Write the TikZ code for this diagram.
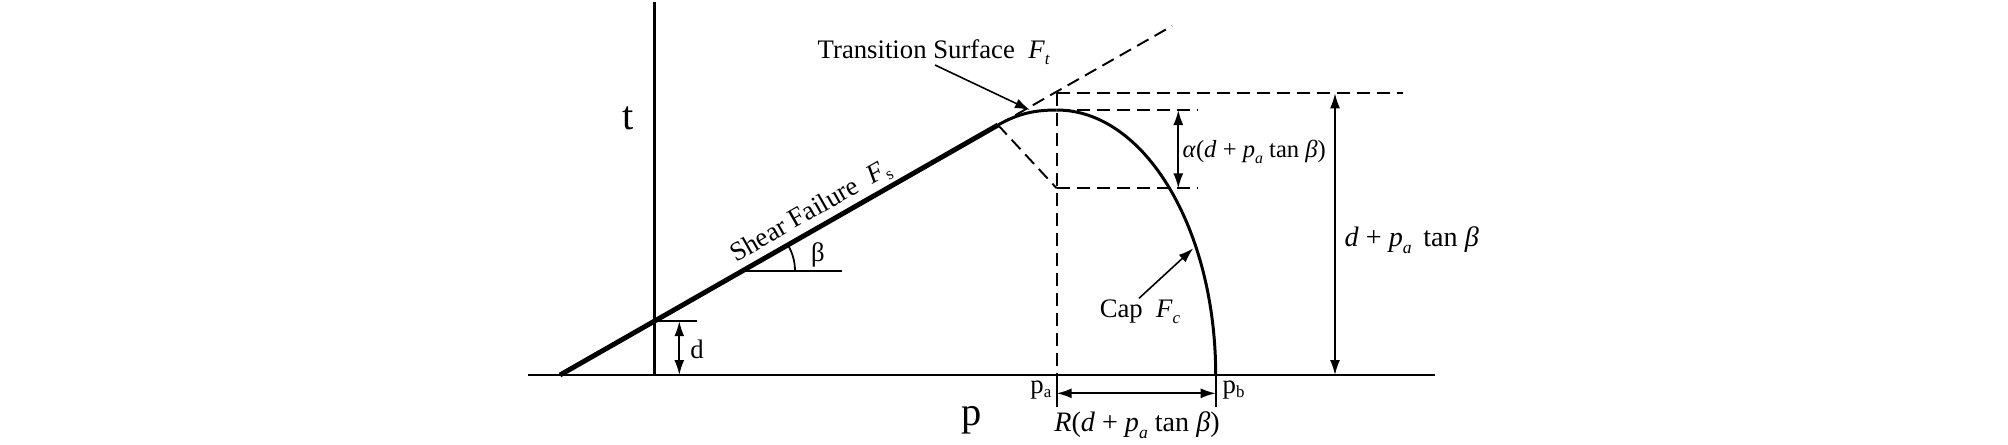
\documentclass[tikz,border=0pt]{standalone}
\usepackage{fontspec}
\setmainfont{Liberation Serif}
\usetikzlibrary{calc,arrows.meta}

\begin{document}
\begin{tikzpicture}[x=0.01cm,y=-0.01cm]
        \tikzstyle{every node}=[inner sep=0pt,font=\fontsize{7.6}{9}\selectfont]
        \tikzstyle{dim}=[line width=0.5pt,{Latex[length=1.5mm,width=1mm]}-{Latex[length=1.5mm,width=1mm]}]
        \tikzstyle{ptr}=[line width=0.45pt,-{Latex[length=1.5mm,width=1mm]}]
        \tikzstyle{guide}=[line width=0.55pt,dash pattern=on 1.3mm off 0.7mm]
        \useasboundingbox (0,0) rectangle (2008,444);

        % axes
        \coordinate (o) at (654.3,375);
        \coordinate (ttop) at (654.3,2);
        \coordinate (pleft) at (528,375);
        \coordinate (pright) at (1435,375);
        \draw[line width=0.8pt] (pleft) -- (pright);
        \draw[line width=0.8pt] (o) -- (ttop);
        \node[font=\fontsize{11.5}{13}\selectfont] (t) at (628,118) {t};
        \node[font=\fontsize{11.5}{13}\selectfont] (p) at (972,420) {p};

        % shear failure line
        \coordinate (s0) at (560,375);
        \coordinate (s1) at (998,125);
        \coordinate (d0) at (654.3,321.2);
        \draw[line width=1.4pt] (s0) -- (s1);
        \node[rotate=29.7] (fs) at (811,212) {Shear Failure\ \ \textit{F}\raisebox{-0.4ex}{\fontsize{4.8}{5}\selectfont s}};

        % d
        \coordinate (d1) at (697,321.2);
        \draw[line width=0.5pt] (d0) -- (d1);
        \draw[dim] (679.3,321.2) -- (679.3,375);
        \node (d) at (697,349) {d};

        % beta
        \coordinate (b0) at (743.3,271);
        \coordinate (b1) at (841.7,271);
        \draw[line width=0.5pt] (b0) -- (b1);
        \draw[line width=0.5pt] ($(b0)+(51.7,0)$) arc[start angle=0,end angle=-29.7,radius=51.7];
        \node (beta) at (818,255) {β};

        % transition surface
        \coordinate (pa) at (1056.7,375);
        \coordinate (pb) at (1215.7,375);
        \coordinate (capt) at (1056.7,110);
        \coordinate (capc) at (1056.7,188.3);
        \draw[line width=0.85pt] (s1) .. controls (1019,113) and (1036,110) .. (capt);
        \draw[guide] (s1) -- (1172,26);
        \draw[guide] (s1) -- (capc);
        \node[anchor=west] (ft) at (817,52) {Transition Surface\ \ \textit{F}\raisebox{-0.5ex}{\fontsize{4.8}{5}\selectfont\textit{t}}};
        \coordinate (ft0) at (935,65);
        \coordinate (ft1) at (1030,110);
        \draw[ptr] (ft0) -- (ft1);

        % cap
        \draw[line width=0.85pt] (pb) arc[start angle=0,end angle=-90,x radius=159,y radius=265];
        \node (fc) at (1140,312) {Cap\ \ \textit{F}\raisebox{-0.5ex}{\fontsize{4.8}{5}\selectfont\textit{c}}};
        \coordinate (fc0) at (1139,298.3);
        \coordinate (fc1) at (1193.3,248.3);
        \draw[ptr] (fc0) -- (fc1);

        % dashed guides
        \coordinate (h0) at (1056.7,93.3);
        \draw[guide] (h0) -- (pa);
        \draw[guide] (h0) -- (1403.3,93.3);
        \draw[guide] (capt) -- (1198.3,110);
        \draw[guide] (capc) -- (1198.3,188.3);

        % alpha
        \draw[dim] (1178.3,110) -- (1178.3,188.3);
        \node[anchor=west,font=\fontsize{7}{8}\selectfont] (al) at (1182,152) {\textit{α}(\textit{d} + \textit{p}\raisebox{-0.5ex}{\fontsize{4.5}{5}\selectfont\textit{a}} tan \textit{β})};

        % d + pa tan beta
        \draw[dim] (1335,93.3) -- (1335,375);
        \node[anchor=west,font=\fontsize{8}{9}\selectfont] (dp) at (1344,240) {\textit{d} + \textit{p}\raisebox{-0.5ex}{\fontsize{5}{5}\selectfont\textit{a}}\, tan \textit{β}};

        % R
        \draw[line width=0.5pt] (pa) -- ++(0,31.7);
        \draw[line width=0.5pt] (pb) -- ++(0,31.7);
        \draw[dim] (1056.7,393.3) -- (1215.7,393.3);
        \node[anchor=east] (pal) at (1052,390) {p\raisebox{-0.3ex}{\fontsize{4.8}{5}\selectfont a}};
        \node[anchor=west] (pbl) at (1222,390) {p\raisebox{-0.3ex}{\fontsize{4.8}{5}\selectfont b}};
        \node[font=\fontsize{8}{9}\selectfont] (rl) at (1137,425) {\textit{R}(\textit{d} + \textit{p}\raisebox{-0.5ex}{\fontsize{5}{5}\selectfont\textit{a}} tan \textit{β})};
    \end{tikzpicture}
\end{document}
